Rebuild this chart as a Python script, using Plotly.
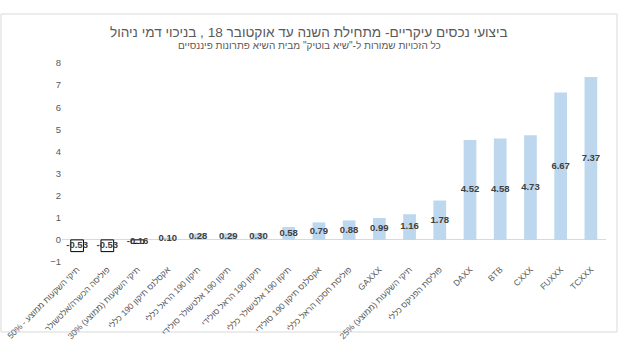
import plotly.graph_objects as go

RLE, PDF = "\u202B", "\u202C"

categories = [
    "תיקי השקעות ממוצע - 50%",
    "פוליסה הכשרה/אלטשולר",
    "תיקי השקעות (ממוצע) 30%",
    "אקסלנס תיקון 190 כללי",
    "תיקון 190 הראל כללי",
    "תיקון 190 אלטשולר סולידי",
    "תיקון 190 הראל סולידי",
    "תיקון 190 אלטשולר כללי",
    "אקסלנס תיקון 190 סולידי",
    "פוליסת חסכון הראל כללי",
    "GAXXX",
    "תיקי השקעות (ממוצע) 25%",
    "פוליסת הפניקס כללי",
    "DAXX",
    "BTB",
    "CXXX",
    "FUXXX",
    "TCXXX",
]
values = [-0.53, -0.53, -0.16, 0.10, 0.28, 0.29, 0.30, 0.58, 0.79, 0.88,
          0.99, 1.16, 1.78, 4.52, 4.58, 4.73, 6.67, 7.37]
y_ticks = [-1, 0, 1, 2, 3, 4, 5, 6, 7, 8]

title = "ביצועי נכסים עיקריים- מתחילת השנה עד אוקטובר 18 , בניכוי דמי ניהול"
subtitle = 'כל הזכויות שמורות ל-"שיא בוטיק" מבית השיא פתרונות פיננסיים'

def rtl(s):
    if any("\u0590" <= c <= "\u05FF" for c in s):
        return RLE + s + PDF
    return s

FONT = "Liberation Sans, DejaVu Sans, Arial, sans-serif"
x = list(range(len(values)))
BLUE = "#BDD7EE"

fig = go.Figure()
fig.add_trace(go.Bar(
    x=x, y=values, width=0.42,
    marker=dict(
        color=[BLUE if v >= 0 else "white" for v in values],
        line=dict(color=["black" if v < 0 else BLUE for v in values],
                  width=[1 if v < 0 else 0 for v in values]),
    ),
    hoverinfo="skip",
))
fig.add_trace(go.Scatter(
    x=x, y=[v / 2 for v in values], mode="text",
    text=[f"{v:.2f}" for v in values],
    textfont=dict(family=FONT, size=9.5, color="#404040", weight="bold"),
    hoverinfo="skip",
))

L, R, T, B = 62, 24, 63, 92
W, H = 630, 354
pw, ph = W - L - R, H - T - B

fig.update_layout(
    width=W, height=H,
    margin=dict(l=L, r=R, t=T, b=B),
    paper_bgcolor="white", plot_bgcolor="white",
    showlegend=False,
    font=dict(family=FONT, color="#595959"),
    xaxis=dict(
        tickmode="array", tickvals=x, ticktext=[rtl(c) for c in categories],
        tickangle=-45, tickfont=dict(size=8.5, color="#595959"),
        ticklabeloverflow="allow",
        range=[-0.5, len(values) - 0.5],
        showgrid=False, showline=False, zeroline=False, ticks="",
        automargin=False,
    ),
    yaxis=dict(
        tickmode="array", tickvals=y_ticks,
        range=[-1, 8], tickfont=dict(size=9.5, color="#595959"),
        showgrid=False, showline=False, zeroline=True,
        zerolinecolor="#D9D9D9", zerolinewidth=1,
        ticks="", automargin=False,
    ),
    annotations=[
        dict(text=rtl(title), xref="paper", yref="paper",
             x=(309 - L) / pw, y=(H - B - 32) / ph, xanchor="center", yanchor="middle",
             showarrow=False, font=dict(size=13.6, color="#595959", family=FONT)),
        dict(text=rtl(subtitle), xref="paper", yref="paper",
             x=(309 - L) / pw, y=(H - B - 45) / ph, xanchor="center", yanchor="middle",
             showarrow=False, font=dict(size=10, color="#595959", family=FONT)),
    ],
    shapes=[
        dict(type="rect", xref="paper", yref="paper",
             x0=(1 - L) / pw, x1=(617 - L) / pw,
             y0=(H - B - 332) / ph, y1=(H - B - 14) / ph,
             line=dict(color="#D9D9D9", width=1), fillcolor="rgba(0,0,0,0)",
             layer="below"),
    ],
)

fig.write_html("out.html")
